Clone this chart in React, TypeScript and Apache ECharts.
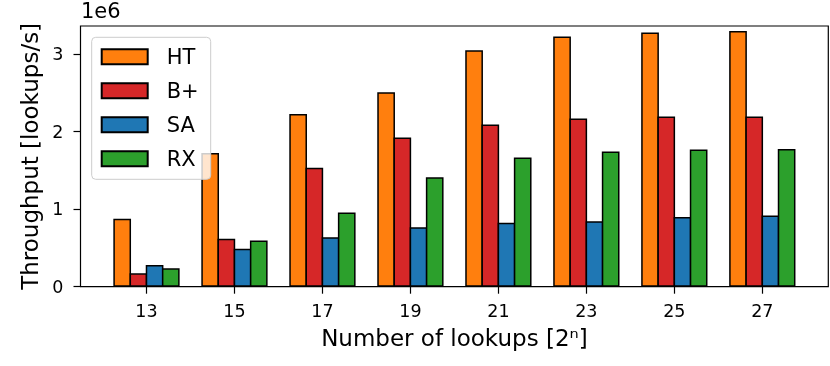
import React, { useEffect, useRef } from "react";
import * as echarts from "echarts";

const exponents = [13, 15, 17, 19, 21, 23, 25, 27];
const seriesNames = ["HT", "B+", "SA", "RX"];
const htValues = [0.876, 1.725, 2.225, 2.506, 3.049, 3.225, 3.277, 3.295];
const bplusValues = [0.172, 0.617, 1.535, 1.924, 2.092, 2.169, 2.195, 2.195];
const saValues = [0.281, 0.488, 0.638, 0.767, 0.824, 0.845, 0.897, 0.918];
const rxValues = [0.237, 0.595, 0.957, 1.41, 1.665, 1.742, 1.768, 1.776];
const yTicks = [0, 1, 2, 3];
const colors = ["#ff7f0e", "#d62728", "#1f77b4", "#2ca02c"];

const FONT = "DejaVu Sans";
const BORDER = 1.5;
const STEP = 16.2;

export default function App() {
  const ref = useRef<HTMLDivElement>(null);
  useEffect(() => {
    if (!ref.current) return;
    const chart = echarts.init(ref.current, undefined, { renderer: "svg" });
    const all = [htValues, bplusValues, saValues, rxValues];
    const bw = STEP + BORDER;
    chart.setOption({
      animation: false,
      textStyle: { fontFamily: FONT },
      grid: {
        left: 80.5,
        right: 1.7,
        top: 26,
        bottom: 79.3,
        show: true,
        borderColor: "#000",
        borderWidth: 1.2,
        backgroundColor: "transparent",
      },
      legend: {
        orient: "vertical",
        left: 91.7,
        top: 37.3,
        padding: [9, 12, 10, 9],
        itemWidth: 46,
        itemHeight: 15,
        itemGap: 13,
        icon: "rect",
        backgroundColor: "rgba(255,255,255,0.8)",
        borderColor: "#cccccc",
        borderWidth: 1,
        borderRadius: 4,
        textStyle: {
          fontFamily: FONT,
          fontSize: 21,
          color: "#000",
          padding: [0, 0, 0, 14],
        },
        data: seriesNames,
      },
      xAxis: {
        type: "value",
        min: 11.5,
        max: 28.5,
        name: "Number of lookups [2ⁿ]",
        nameLocation: "middle",
        nameGap: 40,
        nameTextStyle: { fontFamily: FONT, fontSize: 23, color: "#000" },
        axisLine: { show: false },
        splitLine: { show: false },
        axisTick: {
          show: true,
          length: 7,
          customValues: exponents,
          lineStyle: { color: "#000", width: 1.2 },
        },
        axisLabel: {
          customValues: exponents,
          fontFamily: FONT,
          fontSize: 17.5,
          color: "#000",
          margin: 15,
        },
      },
      yAxis: {
        type: "value",
        min: 0,
        max: 3.361e6,
        name: "Throughput [lookups/s]",
        nameLocation: "middle",
        nameGap: 39,
        nameTextStyle: { fontFamily: FONT, fontSize: 23, color: "#000" },
        axisLine: { show: false },
        splitLine: { show: false },
        axisTick: {
          show: true,
          length: 7,
          customValues: yTicks.map((v) => v * 1e6),
          lineStyle: { color: "#000", width: 1.2 },
        },
        axisLabel: {
          customValues: yTicks.map((v) => v * 1e6),
          formatter: (v: number) => String(Math.round(v / 1e6)),
          fontFamily: FONT,
          fontSize: 17.5,
          color: "#000",
          margin: 17,
        },
      },
      graphic: [
        {
          type: "text",
          left: 81,
          top: 0,
          style: { text: "1e6", fontFamily: FONT, fontSize: 21, fill: "#000" },
        },
      ],
      series: seriesNames.map((name, i) => ({
        name,
        type: "bar",
        barWidth: bw,
        barGap: `${(-BORDER / bw) * 100}%`,
        itemStyle: { color: colors[i], borderColor: "#000", borderWidth: BORDER },
        data: exponents.map((x, j) => [x, all[i][j] * 1e6]),
      })),
    });
    return () => chart.dispose();
  }, []);
  return (
    <div
      ref={ref}
      style={{ position: "fixed", left: 0, top: 0, width: 830, height: 366 }}
    />
  );
}
